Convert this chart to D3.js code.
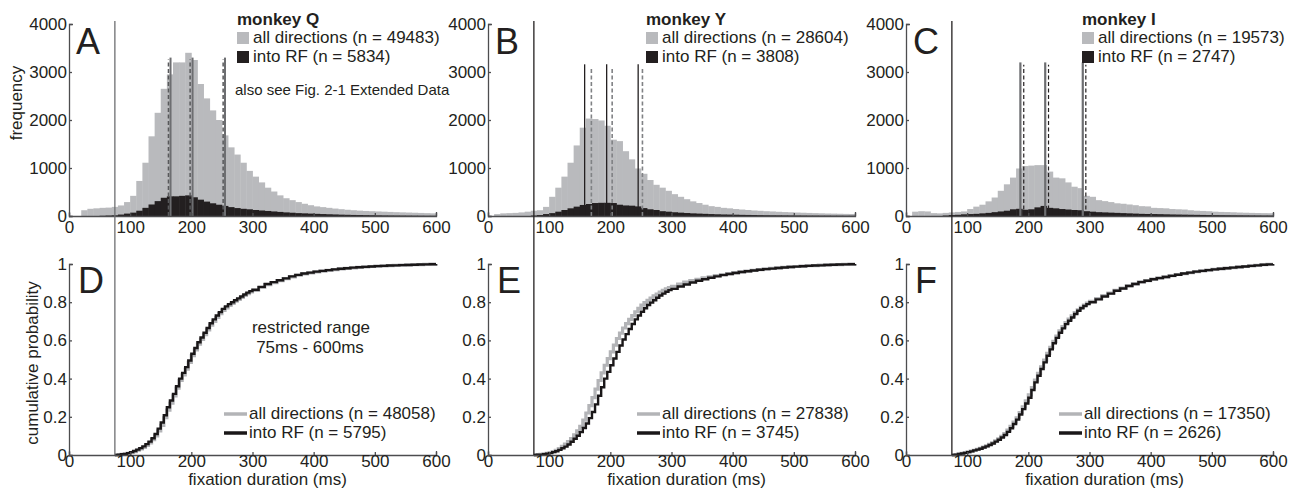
<!DOCTYPE html>
<html>
<head>
<meta charset="utf-8">
<script src="https://cdn.jsdelivr.net/npm/d3@7"></script>
<style>
  body { margin: 0; background: #fff; }
  svg text { font-family: "Liberation Sans", Arial, sans-serif; fill: #231f20; }
</style>
</head>
<body>
<svg id="fig" width="1299" height="489"></svg>
<script>
// histogram bins: 10 ms wide, starting at these values (ms)
const binStart = d3.range(0, 600, 10);

const histAllQ = [0,0,120,150,160,170,175,190,220,290, 420,730,1110,1660,2150,2650,2950,3200,3200,3400,
  3250,2750,2450,2200,2000,1680,1430,1280,1110,940, 820,700,590,510,430,370,330,290,255,225,
  200,185,170,155,142,130,120,112,105,100, 95,90,85,80,76,72,68,64,60,56];
const histRfQ = [0,0,0,0,0,5,10,15,30,50, 70,110,170,240,310,380,410,410,420,430,
  390,340,300,265,235,210,185,165,150,140, 125,115,105,95,85,75,68,60,55,50,
  45,40,36,32,28,25,22,20,18,16, 14,12,11,10,9,8,7,6,5,5];

const histAllY = [0,40,55,60,65,75,90,110,120,190, 400,590,820,1110,1470,1840,2030,2020,1990,1880,
  1590,1560,1350,1180,990,880,750,650,590,525, 455,400,350,305,270,235,205,190,170,160,
  145,135,125,115,108,100,95,88,82,78, 72,68,64,60,56,52,50,47,44,42];
const histRfY = [0,0,0,0,0,0,0,10,20,40, 60,90,125,160,195,230,250,270,275,275,
  270,235,220,215,200,165,140,125,100,90, 78,70,62,55,50,45,40,36,32,30,
  27,24,22,20,18,16,15,14,13,12, 11,10,9,9,8,8,7,7,6,6];

const histAllI = [0,90,100,95,60,55,65,75,85,95, 145,195,235,305,385,525,660,800,990,1040,
  1050,1060,1060,925,800,785,700,610,580,420, 400,330,310,290,265,255,240,225,205,200,
  170,165,160,145,140,135,120,110,105,100, 90,85,82,78,72,68,65,62,60,58];
const histRfI = [0,0,0,0,0,0,10,20,25,35, 40,45,55,65,80,95,110,140,150,130,
  140,180,210,170,160,145,135,125,120,100, 90,80,75,70,65,60,55,50,45,42,
  40,38,35,32,30,28,26,24,22,20, 18,17,16,15,14,13,12,11,10,10];

// quartile markers (ms)
const quartSolidQ = [166, 202, 255];
const quartDashQ = [162.6, 198, 252];
const quartSolidY = [158, 194, 245.5];
const quartDashY = [169, 203, 252.5];
const quartSolidI = [187, 227.6, 289];
const quartDashI = [192.5, 233, 294];

// cumulative distributions, restricted range 75-600 ms
// 5 ms steps up to 300 ms, then 10 ms steps
const cdfTimes = d3.range(75, 301, 5).concat(d3.range(310, 601, 10));
const cdfAllQ = [0,.001,.003,.005,.009,.013,.018,.025,.032,.04, .05,.063,.08,.1,.126,.155,.195,.235,.272,.31,
  .35,.39,.42,.45,.485,.52,.55,.58,.605,.63, .655,.68,.70,.72,.74,.757,.77,.783,.794,.805,
  .815,.825,.835,.845,.854,.862,
  .877,.892,.903,.913,.923,.933,.941,.948,.954,.959, .963,.967,.971,.974,.977,.98,.983,.985,.987,.989,
  .99,.992,.993,.994,.995,.996,.997,.998,.999,1];
const cdfRfQ = [0,.002,.004,.006,.01,.015,.021,.028,.036,.045, .057,.07,.088,.11,.138,.17,.208,.25,.285,.32,
  .36,.40,.43,.46,.495,.53,.56,.59,.615,.64, .665,.69,.71,.73,.748,.765,.778,.79,.80,.81,
  .82,.83,.84,.85,.858,.865,
  .88,.895,.905,.915,.925,.935,.943,.95,.955,.96, .964,.968,.972,.975,.978,.981,.983,.985,.987,.989,
  .99,.992,.993,.994,.995,.996,.997,.998,.999,1];
const cdfAllY = [0,.002,.004,.006,.009,.013,.018,.025,.034,.045, .057,.07,.086,.105,.126,.15,.183,.22,.258,.30,
  .345,.39,.43,.47,.505,.54,.575,.61,.638,.665, .688,.71,.73,.75,.768,.785,.798,.81,.822,.833,
  .843,.853,.862,.87,.877,.883,
  .895,.905,.913,.92,.927,.933,.939,.945,.95,.955, .959,.963,.967,.971,.974,.977,.98,.983,.985,.987,
  .989,.991,.992,.994,.995,.996,.997,.998,.999,1];
const cdfRfY = [0,.001,.002,.004,.007,.01,.015,.02,.027,.035, .044,.055,.069,.085,.101,.12,.141,.165,.193,.225,
  .265,.31,.355,.40,.435,.47,.505,.54,.573,.605, .633,.66,.686,.71,.73,.75,.768,.785,.798,.81,
  .823,.835,.845,.855,.863,.87,
  .882,.893,.903,.912,.92,.928,.935,.942,.948,.953, .958,.962,.966,.97,.973,.976,.979,.982,.984,.986,
  .988,.99,.992,.993,.995,.996,.997,.998,.999,1];
const cdfAllI = [0,.002,.005,.008,.012,.016,.02,.025,.03,.035, .041,.048,.056,.064,.074,.085,.098,.112,.13,.15,
  .172,.195,.222,.252,.283,.315,.353,.392,.427,.462, .497,.532,.564,.595,.623,.65,.672,.693,.711,.728,
  .745,.76,.773,.785,.795,.804,
  .819,.834,.848,.862,.874,.886,.896,.906,.913,.921, .927,.933,.939,.945,.95,.955,.96,.964,.968,.972,
  .975,.978,.981,.984,.987,.99,.993,.996,.998,1];
const cdfRfI = [0,.002,.005,.008,.011,.015,.019,.024,.028,.033, .039,.045,.052,.06,.07,.08,.092,.105,.121,.14,
  .162,.185,.212,.24,.27,.30,.34,.38,.415,.45, .485,.52,.553,.585,.613,.64,.663,.685,.703,.72,
  .738,.755,.768,.78,.79,.80,
  .815,.83,.845,.86,.872,.885,.895,.905,.912,.92, .926,.932,.938,.944,.95,.955,.96,.964,.968,.972,
  .975,.978,.981,.984,.987,.99,.993,.996,.998,1];

const monkeys = ['monkey Q', 'monkey Y', 'monkey I'];
const histLetters = ['A', 'B', 'C'];
const cdfLetters = ['D', 'E', 'F'];
const nHist = [[49483, 5834], [28604, 3808], [19573, 2747]];
const nCdf = [[48058, 5795], [27838, 3745], [17350, 2626]];
const xTicks = [0, 100, 200, 300, 400, 500, 600];
const histTicks = [0, 1000, 2000, 3000, 4000];
const cdfTicks = [0, 0.2, 0.4, 0.6, 0.8, 1];
const cutoff = 75;

// layout per column
const cols = [
  { left: 69, legTop: 237, legBot: 224, solidTop: 3300, dashTop: 3260,
    solidColor: '#6d6e71', solidW: 2, dashColor: '#58595b', dashW: 1.5, cutColor: '#6d6e71',
    all: histAllQ, rf: histRfQ, qs: quartSolidQ, qd: quartDashQ, cAll: cdfAllQ, cRf: cdfRfQ },
  { left: 488, legTop: 646, legBot: 637, solidTop: 3160, dashTop: 3110,
    solidColor: '#231f20', solidW: 1.3, dashColor: '#808285', dashW: 1.6, cutColor: '#231f20',
    all: histAllY, rf: histRfY, qs: quartSolidY, qd: quartDashY, cAll: cdfAllY, cRf: cdfRfY },
  { left: 906, legTop: 1082, legBot: 1059, solidTop: 3200, dashTop: 3150,
    solidColor: '#6d6e71', solidW: 2.2, dashColor: '#231f20', dashW: 1.2, cutColor: '#231f20',
    all: histAllI, rf: histRfI, qs: quartSolidI, qd: quartDashI, cAll: cdfAllI, cRf: cdfRfI }
];
const plotW = 367;
const histY = d3.scaleLinear().domain([0, 4000]).range([216, 24]);
const cdfY = d3.scaleLinear().domain([0, 1]).range([455, 264]);

const svg = d3.select('#fig');
const grayFill = '#b9babd';
const darkFill = '#231f20';

function styleAxis(g) {
  g.attr('color', '#4d4d4f').attr('font-size', 17);
  g.selectAll('path, line').attr('stroke-width', 1.3);
}

cols.forEach((c, i) => {
  const x = d3.scaleLinear().domain([0, 600]).range([c.left, c.left + plotW]);

  // --- histogram panel ---
  const top = svg.append('g');
  [[c.all, grayFill], [c.rf, darkFill]].forEach(([vals, fill]) => {
    top.append('g').selectAll('rect')
      .data(vals)
      .join('rect')
        .attr('x', (d, k) => x(binStart[k]))
        .attr('width', (d, k) => x(binStart[k] + 10) - x(binStart[k]) + 0.4)
        .attr('y', d => histY(d))
        .attr('height', d => histY(0) - histY(d))
        .attr('fill', fill);
  });

  top.selectAll('line.qs')
    .data(c.qs)
    .join('line')
      .attr('class', 'qs')
      .attr('x1', d => x(d)).attr('x2', d => x(d))
      .attr('y1', histY(0)).attr('y2', histY(c.solidTop))
      .attr('stroke', c.solidColor).attr('stroke-width', c.solidW);
  top.selectAll('line.qd')
    .data(c.qd)
    .join('line')
      .attr('class', 'qd')
      .attr('x1', d => x(d)).attr('x2', d => x(d))
      .attr('y1', histY(0)).attr('y2', histY(c.dashTop))
      .attr('stroke', c.dashColor).attr('stroke-width', c.dashW)
      .attr('stroke-dasharray', '4,2.5');

  top.append('g')
    .attr('transform', `translate(0,${histY(0)})`)
    .call(d3.axisBottom(x).tickValues(xTicks).tickSizeInner(-3).tickSizeOuter(-4).tickPadding(5))
    .call(styleAxis);
  top.append('g')
    .attr('transform', `translate(${c.left},0)`)
    .call(d3.axisLeft(histY).tickValues(histTicks).tickFormat(d3.format('d'))
      .tickSizeInner(-3).tickSizeOuter(-4).tickPadding(2))
    .call(styleAxis);

  top.append('text').attr('x', c.left + 7).attr('y', 54)
    .attr('font-size', 36).text(histLetters[i]);

  // legend
  top.append('text').attr('x', c.legTop).attr('y', 25)
    .attr('font-size', 17).attr('font-weight', 'bold').text(monkeys[i]);
  [['all directions', grayFill, 43], ['into RF', darkFill, 62]].forEach(([lab, fill, base], k) => {
    top.append('rect').attr('x', c.legTop).attr('y', base - 11)
      .attr('width', 12).attr('height', 12).attr('fill', fill);
    top.append('text').attr('x', c.legTop + 16).attr('y', base)
      .attr('font-size', 17).text(`${lab} (n = ${nHist[i][k]})`);
  });

  // --- cumulative panel ---
  const bot = svg.append('g');
  const line = d3.line()
    .x((d, k) => x(cdfTimes[k]))
    .y(d => cdfY(d))
    .curve(d3.curveStepAfter);
  bot.append('path').datum(c.cAll)
    .attr('d', line).attr('fill', 'none')
    .attr('stroke', '#b3b4b7').attr('stroke-width', 3.2);
  bot.append('path').datum(c.cRf)
    .attr('d', line).attr('fill', 'none')
    .attr('stroke', '#1a1718').attr('stroke-width', 2.4);

  bot.append('g')
    .attr('transform', `translate(0,${cdfY(0)})`)
    .call(d3.axisBottom(x).tickValues(xTicks).tickSizeInner(-3).tickSizeOuter(-4).tickPadding(0))
    .call(styleAxis);
  bot.append('g')
    .attr('transform', `translate(${c.left},0)`)
    .call(d3.axisLeft(cdfY).tickValues(cdfTicks).tickFormat(d => d).tickSizeInner(-3).tickSizeOuter(-4).tickPadding(2))
    .call(styleAxis);

  bot.append('text').attr('x', c.left + 9).attr('y', 293)
    .attr('font-size', 36).text(cdfLetters[i]);

  [['all directions', '#b3b4b7', 419], ['into RF', '#1a1718', 438]].forEach(([lab, col, base], k) => {
    bot.append('line')
      .attr('x1', c.legBot).attr('x2', c.legBot + 23)
      .attr('y1', base - 5).attr('y2', base - 5)
      .attr('stroke', col).attr('stroke-width', 3.5);
    bot.append('text').attr('x', c.legBot + 25).attr('y', base)
      .attr('font-size', 17).text(`${lab} (n = ${nCdf[i][k]})`);
  });

  bot.append('text').attr('x', (c.left + c.left + plotW) / 2 + 15).attr('y', 485)
    .attr('text-anchor', 'middle').attr('font-size', 17).text('fixation duration (ms)');

  // 75 ms cut-off line spanning both rows
  svg.append('line')
    .attr('x1', x(cutoff)).attr('x2', x(cutoff))
    .attr('y1', histY(4000) - 3).attr('y2', cdfY(0))
    .attr('stroke', c.cutColor).attr('stroke-width', 1.3);
});

// annotations on the first column
svg.append('text').attr('transform', 'translate(22,103) rotate(-90)')
  .attr('text-anchor', 'middle').attr('font-size', 17).text('frequency');
svg.append('text').attr('transform', 'translate(38,363) rotate(-90)')
  .attr('text-anchor', 'middle').attr('font-size', 17).text('cumulative probability');
svg.append('text').attr('x', 235).attr('y', 95)
  .attr('font-size', 15).text('also see Fig. 2-1 Extended Data');
svg.append('text').attr('x', 311).attr('y', 333)
  .attr('text-anchor', 'middle').attr('font-size', 17).text('restricted range');
svg.append('text').attr('x', 310).attr('y', 353)
  .attr('text-anchor', 'middle').attr('font-size', 17).text('75ms - 600ms');
</script>
</body>
</html>
